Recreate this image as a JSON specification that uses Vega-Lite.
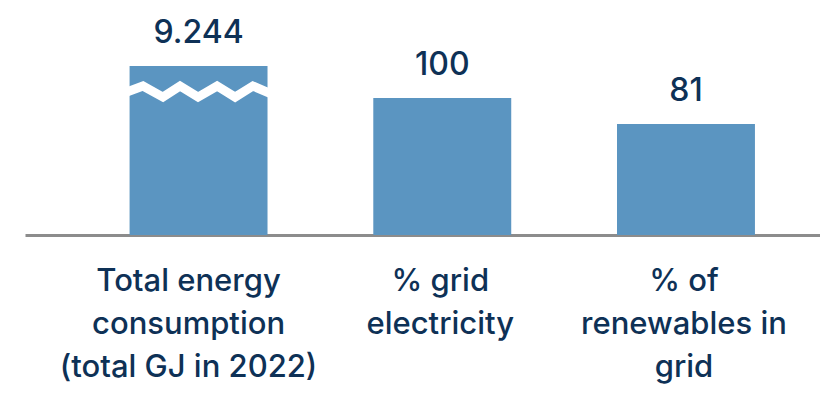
{
  "$schema": "https://vega.github.io/schema/vega-lite/v6.json",
  "width": 795,
  "height": 169,
  "autosize": "none",
  "padding": {"left": 25, "top": 66, "right": 0, "bottom": 164},
  "background": "white",
  "config": {
    "view": {"stroke": null},
    "font": "Inter",
    "locale": {"number": {"decimal": ",", "thousands": ".", "grouping": [3], "currency": ["", " €"]}}
  },
  "datasets": {
    "bars": [
      {"metric": "Total energy|consumption|(total GJ in 2022)", "value": 9244},
      {"metric": "% grid|electricity", "value": 100},
      {"metric": "% of|renewables in|grid", "value": 81}
    ],
    "breakmark": [
      {"u": 0.415, "v": 104.2},
      {"u": 0.484, "v": 108.8},
      {"u": 0.566, "v": 100.7},
      {"u": 0.636, "v": 108.8},
      {"u": 0.71, "v": 100.7},
      {"u": 0.788, "v": 108.8},
      {"u": 0.862, "v": 100.7},
      {"u": 0.935, "v": 108.8},
      {"u": 1.01, "v": 103.0}
    ]
  },
  "layer": [
    {
      "data": {"name": "bars"},
      "mark": {"type": "bar", "color": "#5b95c1"},
      "encoding": {
        "x": {
          "field": "metric", "type": "nominal", "sort": null,
          "scale": {"type": "band", "paddingInner": 0.434, "paddingOuter": 0.348, "align": 0.6165},
          "axis": {
            "title": null, "ticks": false, "labelAngle": 0,
            "labelExpr": "split(datum.label, '|')",
            "labelFontSize": 31, "labelFont": "Inter", "labelFontWeight": 500,
            "labelColor": "#0e3156", "labelLineHeight": 43, "labelPadding": 31,
            "labelBaseline": "top", "labelLimit": 400,
            "domainColor": "#8c8c8c", "domainWidth": 3,
            "labelOffset": {"condition": {"test": "indexof(datum.value, 'Total') === 0", "value": -10}, "value": -2}
          }
        },
        "y": {
          "field": "value", "type": "quantitative",
          "scale": {"domain": [0, 123.4], "clamp": true, "nice": false, "zero": true},
          "axis": null
        }
      }
    },
    {
      "data": {"name": "breakmark"},
      "mark": {"type": "line", "color": "white", "strokeWidth": 9, "strokeJoin": "miter", "strokeCap": "butt"},
      "encoding": {
        "x": {"field": "u", "type": "quantitative", "scale": {"domain": [0, 3.2615], "nice": false, "zero": false}, "axis": null},
        "y": {"field": "v", "type": "quantitative", "scale": {"domain": [0, 123.4], "nice": false}, "axis": null},
        "order": {"field": "u"}
      }
    },
    {
      "data": {"name": "bars"},
      "mark": {"type": "text", "fontSize": 32, "fontWeight": 500, "color": "#0e3156", "baseline": "alphabetic", "dy": -23, "font": "Inter"},
      "encoding": {
        "x": {
          "field": "metric", "type": "nominal", "sort": null,
          "scale": {"type": "band", "paddingInner": 0.434, "paddingOuter": 0.348, "align": 0.6165},
          "axis": null
        },
        "y": {"field": "value", "type": "quantitative"},
        "text": {"field": "value", "type": "quantitative", "format": ",d"}
      }
    }
  ],
  "resolve": {"scale": {"x": "independent"}}
}
